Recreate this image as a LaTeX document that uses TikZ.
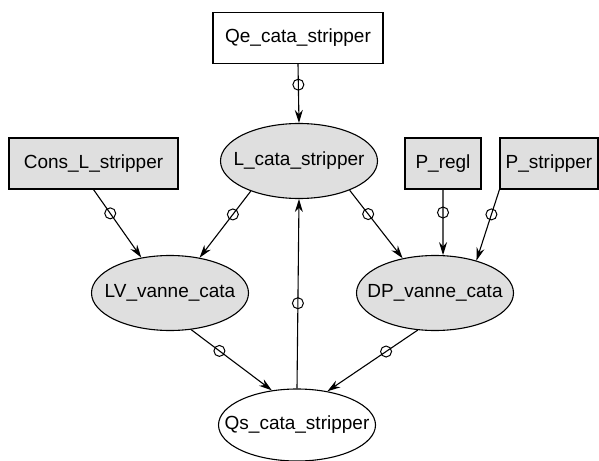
\documentclass[tikz,border=0pt]{standalone}
\usepackage{fontspec}
\setmainfont{Liberation Sans}
\usetikzlibrary{shapes.geometric,arrows.meta}

% keep the variable ellipses at one size
\newcommand{\vtext}[1]{\makebox[90pt]{#1}}

\begin{document}
\begin{tikzpicture}[x=1pt,y=-1pt,line width=1.1pt,>={Stealth[length=13pt,width=8pt]},
    every node/.style={font=\fontsize{19}{22}\selectfont},
    inbox/.style={draw,rectangle,inner sep=0pt,minimum height=51pt},
    varnode/.style={draw,ellipse,inner sep=0pt,minimum width=157pt,minimum height=75pt},
    ring/.style={draw,circle,inner sep=0pt,minimum size=11pt,line width=1pt}]
    % fix the page size
    \useasboundingbox (0,0) rectangle (599,460);
    \clip (0,0) rectangle (599,460);

    % the input boxes
    \node[inbox,minimum width=170pt] (qe) at (298,38) {Qe\_cata\_stripper};
    \node[inbox,fill=gray!25,minimum width=169pt] (cons) at (93.5,163.5) {Cons\_L\_stripper};
    \node[inbox,fill=gray!25,minimum width=76pt] (pregl) at (443,163.5) {P\_regl};
    \node[inbox,fill=gray!25,minimum width=98pt] (pstrip) at (549,163.5) {P\_stripper};

    % the variables
    \node[varnode,fill=gray!25] (lcata) at (299,161) {\vtext{L\_cata\_stripper}};
    \node[varnode,fill=gray!25] (lv) at (170,293) {\vtext{LV\_vanne\_cata}};
    \node[varnode,fill=gray!25] (dp) at (435,293) {\vtext{DP\_vanne\_cata}};
    \node[varnode,minimum height=72pt] (qs) at (297,425) {\vtext{Qs\_cata\_stripper}};

    % the links, each with its small ring
    \foreach \a/\b/\p in {
        qe.south/lcata.north/0.35,
        cons.south/lv.129/0.35,
        lcata.212/lv.50/0.35,
        lcata.330/dp.133/0.35,
        pregl.south/dp.78/0.35,
        pstrip.south west/dp.38/0.35,
        lv.300/qs.126/0.35,
        dp.245/qs.48/0.35,
        qs.north/lcata.south/0.45}
            \draw[->] (\a) -- node[ring,pos=\p] {} (\b);
\end{tikzpicture}
\end{document}
